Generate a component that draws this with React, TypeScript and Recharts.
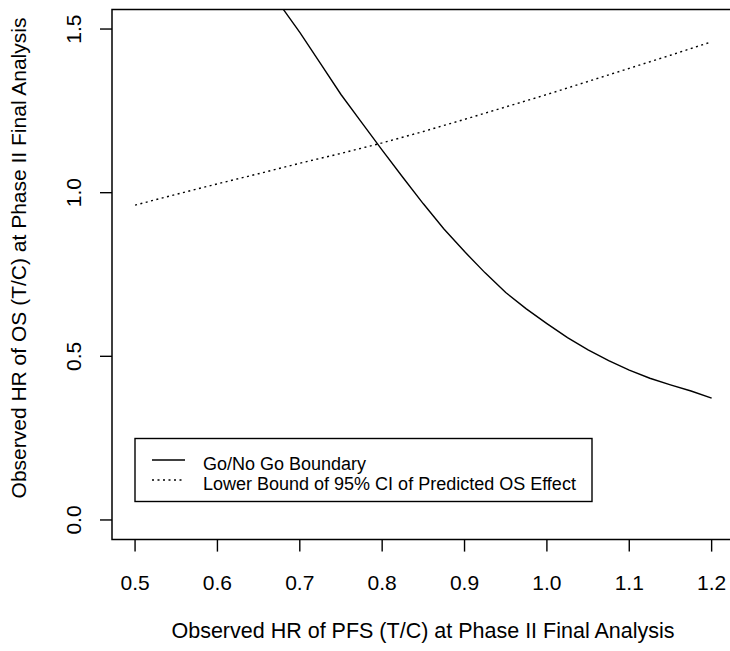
import React from "react"
import {
  LineChart,
  Line,
  XAxis,
  YAxis,
  ReferenceArea,
  Customized,
} from "recharts"

// Go/No Go boundary (starts where it leaves the top edge)
const boundaryPfsHr = [
  0.68, 0.7, 0.725, 0.75, 0.775, 0.8, 0.825, 0.85, 0.875, 0.9, 0.925, 0.95,
  0.975, 1.0, 1.025, 1.05, 1.075, 1.1, 1.125, 1.15, 1.175, 1.2,
]
const boundaryOsHr = [
  1.56, 1.49, 1.395, 1.3, 1.215, 1.13, 1.047, 0.966, 0.889, 0.82, 0.755,
  0.695, 0.645, 0.6, 0.557, 0.52, 0.487, 0.458, 0.433, 0.413, 0.394, 0.372,
]

// lower bound of 95% CI of predicted OS effect
const lowerPfsHr = [
  0.5, 0.55, 0.6, 0.65, 0.7, 0.75, 0.8, 0.85, 0.9, 0.95, 1.0, 1.05, 1.1, 1.15,
  1.2,
]
const lowerOsHr = [
  0.962, 0.995, 1.027, 1.058, 1.09, 1.12, 1.152, 1.187, 1.224, 1.262, 1.3,
  1.34, 1.38, 1.42, 1.461,
]

const xTicks = [0.5, 0.6, 0.7, 0.8, 0.9, 1.0, 1.1, 1.2]
const yTicks = [0, 0.5, 1.0, 1.5]

const legendLabels = [
  "Go/No Go Boundary",
  "Lower Bound of 95% CI of Predicted OS Effect",
]

const xTitle = "Observed HR of PFS (T/C) at Phase II Final Analysis"
const yTitle = "Observed HR of OS (T/C) at Phase II Final Analysis"

const FONT = "'Liberation Sans', Arial, Helvetica, sans-serif"
const DOTS = "2 3.5"

const boundaryData = boundaryPfsHr.map((x, i) => ({ x, y: boundaryOsHr[i] }))
const lowerData = lowerPfsHr.map((x, i) => ({ x, y: lowerOsHr[i] }))

// R pads the axis range by 4% on each side
const xDomain: [number, number] = [0.472, 1.228]
const yDomain: [number, number] = [-0.06, 1.56]

function YTick({ x, y, payload }: any) {
  return (
    <text
      x={x}
      y={y}
      transform={`rotate(-90 ${x} ${y})`}
      textAnchor="middle"
      fontSize={21}
      fontFamily={FONT}
      fill="#000"
    >
      {Number(payload.value).toFixed(1)}
    </text>
  )
}

function Overlay() {
  return (
    <g fontFamily={FONT} fill="#000">
      <text x={423} y={638} textAnchor="middle" fontSize={21.5}>
        {xTitle}
      </text>
      <text
        x={26}
        y={258}
        textAnchor="middle"
        fontSize={21}
        transform="rotate(-90 26 258)"
      >
        {yTitle}
      </text>
      {/* legend box */}
      <rect
        x={135}
        y={438.5}
        width={457}
        height={63}
        fill="#fff"
        stroke="#000"
        strokeWidth={1.4}
      />
      <line x1={152} x2={185} y1={460} y2={460} stroke="#000" strokeWidth={1.4} />
      <line
        x1={152}
        x2={185}
        y1={480}
        y2={480}
        stroke="#000"
        strokeWidth={1.4}
        strokeDasharray={DOTS}
      />
      <text x={203} y={470} fontSize={18}>
        {legendLabels[0]}
      </text>
      <text x={203} y={490} fontSize={18}>
        {legendLabels[1]}
      </text>
    </g>
  )
}

export default function App() {
  return (
    <div
      style={{
        position: "absolute",
        left: 0,
        top: 0,
        width: 730,
        height: 651,
        overflow: "hidden",
        background: "#fff",
      }}
    >
      <LineChart
        width={740}
        height={651}
        margin={{ top: 9.4, right: 5.3, left: 0, bottom: 0 }}
        style={{ fontFamily: FONT }}
      >
        <XAxis
          type="number"
          dataKey="x"
          domain={xDomain}
          ticks={xTicks}
          allowDataOverflow
          height={111.4}
          axisLine={false}
          tickSize={12}
          tickMargin={23.4}
          tickLine={{ stroke: "#000", strokeWidth: 1.4 }}
          tick={{ fontSize: 21, fill: "#000", fontFamily: FONT }}
          tickFormatter={(v: number) => v.toFixed(1)}
        />
        <YAxis
          type="number"
          dataKey="y"
          domain={yDomain}
          ticks={yTicks}
          allowDataOverflow
          width={112}
          axisLine={false}
          tickSize={12}
          tickMargin={19}
          tickLine={{ stroke: "#000", strokeWidth: 1.4 }}
          tick={<YTick />}
        />
        <ReferenceArea
          x1={xDomain[0]}
          x2={xDomain[1]}
          y1={yDomain[0]}
          y2={yDomain[1]}
          fill="none"
          fillOpacity={0}
          stroke="#000"
          strokeWidth={1.5}
          ifOverflow="visible"
        />
        <Line
          data={boundaryData}
          dataKey="y"
          type="linear"
          stroke="#000"
          strokeWidth={1.4}
          dot={false}
          isAnimationActive={false}
        />
        <Line
          data={lowerData}
          dataKey="y"
          type="linear"
          stroke="#000"
          strokeWidth={1.4}
          strokeDasharray={DOTS}
          dot={false}
          isAnimationActive={false}
        />
        <Customized component={Overlay} />
      </LineChart>
    </div>
  )
}
